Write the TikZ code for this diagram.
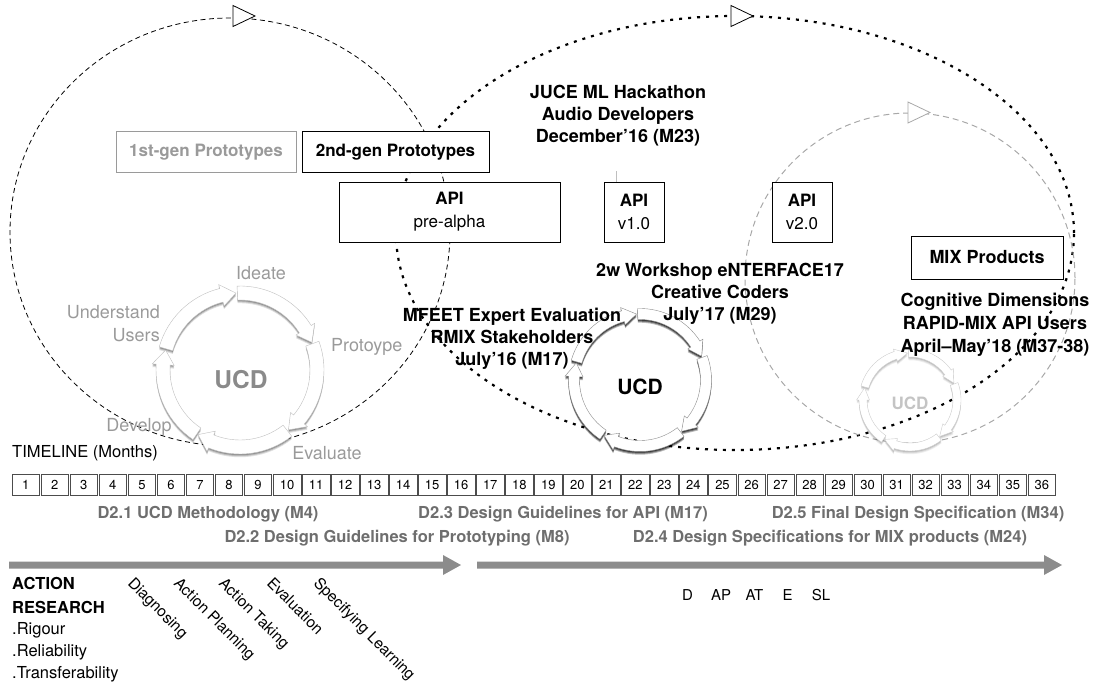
\documentclass[tikz,border=0pt]{standalone}
\usepackage{fontspec}
\setmainfont{TeX Gyre Heros}
\usetikzlibrary{calc}

\definecolor{softgray}{HTML}{9A9A9A}
\definecolor{delivgray}{HTML}{6E6E6E}
\definecolor{bargray}{HTML}{8C8C8C}
\definecolor{lightdash}{HTML}{A8A8A8}
\definecolor{ucdgray}{HTML}{8A8A8A}
\definecolor{ucdlight}{HTML}{C4C4C4}

\newcommand{\fsz}[2]{\fontsize{#1}{#2}\selectfont}

% One UCD cycle: five curved block arrows with a soft drop shadow.
% #1 centre, #2 mid radius, #3 half band width, #4 head flare,
% #5 head length (deg), #6 shadow strength, #7 outline colour
\newcommand{\ucdcycle}[7]{%
  \begin{scope}[shift={(#1)}]
    \foreach \pass in {0,1}{%
      \foreach \k in {0,...,4}{%
        \pgfmathsetmacro\aTip{93-72*\k}%
        \pgfmathsetmacro\aHead{\aTip+#5}%
        \pgfmathsetmacro\aTail{\aTip+71}%
        \pgfmathsetmacro\rOut{#2+#3}%
        \pgfmathsetmacro\rIn{#2-#3}%
        \pgfmathsetmacro\rOutF{#2+#3+#4}%
        \pgfmathsetmacro\rInF{#2-#3-#4}%
        \def\segpath{(\aTail:\rOut) arc[start angle=\aTail, end angle=\aHead, radius=\rOut]
          -- (\aHead:\rOutF) -- (\aTip:#2) -- (\aHead:\rInF) -- (\aHead:\rIn)
          arc[start angle=\aHead, end angle=\aTail, radius=\rIn] -- cycle}%
        \ifnum\pass=0
          \foreach \dy/\op in {3.2/0.22,2.2/0.3,1.2/0.38}{%
            \pgfmathsetmacro\opv{#6*\op}%
            \fill[black, opacity=\opv, yshift=-\dy pt] \segpath;
          }%
        \else
          \filldraw[fill=white, draw=#7, line width=0.4pt] \segpath;
        \fi
      }%
    }%
  \end{scope}}

\tikzset{
  boldlabel/.style={font=\fsz{18}{22}\bfseries, align=center, inner sep=0pt},
  ringlabel/.style={font=\fsz{18}{23}, text=softgray, inner sep=0pt},
  boxed/.style={draw, fill=white, line width=0.8pt, inner sep=0pt, align=center, font=\fsz{17}{23}},
  deliv/.style={font=\fsz{16.5}{20}\bfseries, text=delivgray, inner sep=0pt},
  cell/.style={draw=black!70, line width=0.5pt, minimum width=27.5pt, minimum height=21pt,
    inner sep=0pt, font=\fsz{13}{15}},
  arstep/.style={rotate=-45, anchor=north west, font=\fsz{15.5}{18}, inner sep=0pt},
  arplain/.style={anchor=base west, font=\fsz{16.5}{20}, inner sep=0pt},
  abbrev/.style={font=\fsz{15}{18}, inner sep=0pt},
  loopone/.style={line width=0.8pt, dash pattern=on 5pt off 3.5pt},
  looptwo/.style={line width=2.2pt, dash pattern=on 3pt off 6pt},
  loopthree/.style={lightdash, line width=1pt, dash pattern=on 6pt off 4pt},
  looptip/.style={fill=white, line width=0.8pt, line join=miter},
}

\begin{document}
\begin{tikzpicture}[x=1pt, y=1pt]
  \useasboundingbox (0,0) rectangle (1100,-685);

  % ---- iteration loops ----
  \draw[loopone] (230,-232) ellipse[x radius=220, y radius=214];
  \draw[looptwo] (735,-233) ellipse[x radius=339, y radius=217];
  \draw[loopthree] (910,-278) circle[radius=165];

  \draw[looptip] (233,-5.5) -- (255,-16) -- (233,-26.5) -- cycle;
  \draw[looptip] (731,-5.5) -- (753,-16) -- (731,-26.5) -- cycle;
  \draw[looptip, draw=lightdash] (908,-102) -- (930,-112.5) -- (908,-123) -- cycle;

  % ---- UCD cycles ----
  \ucdcycle{240,-370}{77}{7}{4}{11}{0.55}{black!25}
  \ucdcycle{640,-380}{66}{5.5}{3.5}{12}{1.25}{black!45}
  \ucdcycle{910,-400}{47}{4}{2.5}{15}{0.3}{black!20}

  \node[font=\fsz{24.5}{28}\bfseries, text=ucdgray] (ucdA) at (241,-380) {UCD};
  \node[font=\fsz{21}{24}\bfseries] (ucdB) at (640,-387) {UCD};
  \node[font=\fsz{17}{20}\bfseries, text=ucdlight] (ucdC) at (910,-403) {UCD};

  \node[ringlabel] (ideate) at (261,-273) {Ideate};
  \node[ringlabel, anchor=east, align=right] (understand) at (160,-324) {Understand\\Users};
  \node[ringlabel, anchor=west] (proto) at (331,-347) {Protoype};
  \node[ringlabel] (develop) at (139,-427) {Develop};
  \node[ringlabel] (evaluate) at (327,-453) {Evaluate};

  % ---- prototypes and API releases ----
  \node[boxed, draw=softgray, text=softgray, minimum width=180pt, minimum height=41pt,
        font=\fsz{17}{23}\bfseries] (gen1) at (206,-152) {1st-gen Prototypes};
  \node[boxed, minimum width=187pt, minimum height=41pt, font=\fsz{17}{23}\bfseries]
        (gen2) at (395.5,-152) {2nd-gen Prototypes};
  \node[boxed, minimum width=221pt, minimum height=60pt] (apiA) at (449.5,-212)
        {\textbf{API}\\pre-alpha};
  \node[boxed, minimum width=60pt, minimum height=60pt] (apiB) at (634,-212)
        {\textbf{API}\\v1.0};
  \node[boxed, minimum width=60pt, minimum height=60pt] (apiC) at (802,-212)
        {\textbf{API}\\v2.0};
  \node[boxed, minimum width=152pt, minimum height=43pt, font=\fsz{18}{22}\bfseries]
        (mix) at (987,-257.5) {MIX Products};

  \coordinate (tick) at (616,-171);
  \draw[black!25, line width=0.5pt] (tick) -- (tick |- apiB.north);

  % ---- evaluation events ----
  \node[boldlabel] (juce) at (618,-116)
        {JUCE ML Hackathon\\Audio Developers\\December'16 (M23)};
  \node[boldlabel] (mfeet) at (512,-339)
        {MFEET Expert Evaluation\\RMIX Stakeholders\\July’16 (M17)};
  \node[boldlabel] (enterface) at (720,-294)
        {2w Workshop eNTERFACE17\\Creative Coders\\July'17 (M29)};
  \node[boldlabel, font=\fsz{18}{23}\bfseries] (cogdim) at (995,-325)
        {Cognitive Dimensions\\RAPID-MIX API Users\\April–May’18 (M37-38)};

  % ---- timeline ----
  \node[anchor=west, font=\fsz{16.5}{20}, inner sep=0pt] (timeline) at (12,-453)
        {TIMELINE (Months)};
  \foreach \m in {1,...,36}{
    \node[cell] (m\m) at ({12+13.75+29.03*(\m-1)},-485) {\m};
  }

  \node[deliv] (d21) at (208,-514) {D2.1 UCD Methodology (M4)};
  \node[deliv] (d23) at (563,-514) {D2.3 Design Guidelines for API (M17)};
  \node[deliv] (d25) at (918,-514) {D2.5 Final Design Specification (M34)};
  \node[deliv] (d22) at (397,-538) {D2.2 Design Guidelines for Prototyping (M8)};
  \node[deliv] (d24) at (830,-538) {D2.4 Design Specifications for MIX products (M24)};

  \fill[bargray] (9,-561.5) -- (443,-561.5) -- (443,-555) -- (461,-565)
        -- (443,-575) -- (443,-568.5) -- (9,-568.5) -- cycle;
  \fill[bargray] (477,-561.5) -- (1044,-561.5) -- (1044,-555) -- (1062,-565)
        -- (1044,-575) -- (1044,-568.5) -- (477,-568.5) -- cycle;

  % ---- action research ----
  \node[arplain, font=\fsz{16.5}{20}\bfseries] (arA) at (12,-589) {ACTION};
  \node[arplain, font=\fsz{16.5}{20}\bfseries] (arB) at (12,-613) {RESEARCH};
  \node[arplain] (arC) at (12,-634) {.Rigour};
  \node[arplain] (arD) at (12,-656) {.Reliability};
  \node[arplain] (arE) at (12,-678) {.Transferability};

  \node[arstep] (sD)  at (135,-576) {Diagnosing};
  \node[arstep] (sAP) at (181,-576) {Action Planning};
  \node[arstep] (sAT) at (226,-576) {Action Taking};
  \node[arstep] (sE)  at (274,-576) {Evaluation};
  \node[arstep] (sSL) at (321,-576) {Specifying Learning};

  \node[abbrev] (aD)  at (687.5,-595) {D};
  \node[abbrev] (aAP) at (721,-595) {AP};
  \node[abbrev] (aAT) at (754.5,-595) {AT};
  \node[abbrev] (aE)  at (787.5,-595) {E};
  \node[abbrev] (aSL) at (821,-595) {SL};
\end{tikzpicture}
\end{document}
